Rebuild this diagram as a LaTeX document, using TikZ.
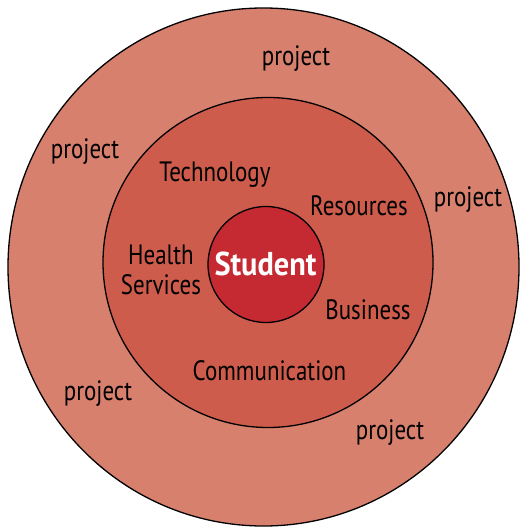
\documentclass[tikz,border=0pt]{standalone}
\usepackage{fontspec}
\setmainfont[FakeStretch=0.82]{PT Sans}
\newfontfamily\studentfont[FakeStretch=0.92]{PT Sans}
\definecolor{ringout}{HTML}{D7806E}
\definecolor{ringmid}{HTML}{CE5C4C}
\definecolor{ringin}{HTML}{C52A33}
\tikzset{
  ring/.style={draw=black, line width=1.3pt},
  lbl/.style={anchor=base, inner sep=0pt, font=\fontsize{28}{30}\selectfont},
}
\begin{document}
\begin{tikzpicture}[x=1pt,y=-1pt]
\useasboundingbox[fill=white] (0,0) rectangle (521,529);
\draw[ring, fill=ringout] (263.5,267) ellipse [x radius=255.5, y radius=259];
\draw[ring, fill=ringmid] (268,262.5) circle [radius=165];
\draw[ring, fill=ringin] (266,264.5) circle [radius=58];
% centre
\node[lbl, text=white, font=\studentfont\fontsize{33}{36}\selectfont\bfseries] (student) at (265.5,275) {Student};
% middle ring
\node[lbl] (tech) at (215,182) {Technology};
\node[lbl] (res) at (359,215) {Resources};
\node[lbl, align=center] (health) at (161,294) {Health\\Services};
\node[lbl] (bus) at (368,319) {Business};
\node[lbl] (comm) at (269.5,380) {Communication};
% outer ring
\node[lbl] (p1) at (296,66) {project};
\node[lbl] (p2) at (85,159) {project};
\node[lbl] (p3) at (468,206) {project};
\node[lbl] (p4) at (98,400) {project};
\node[lbl] (p5) at (390,439) {project};
\end{tikzpicture}
\end{document}
